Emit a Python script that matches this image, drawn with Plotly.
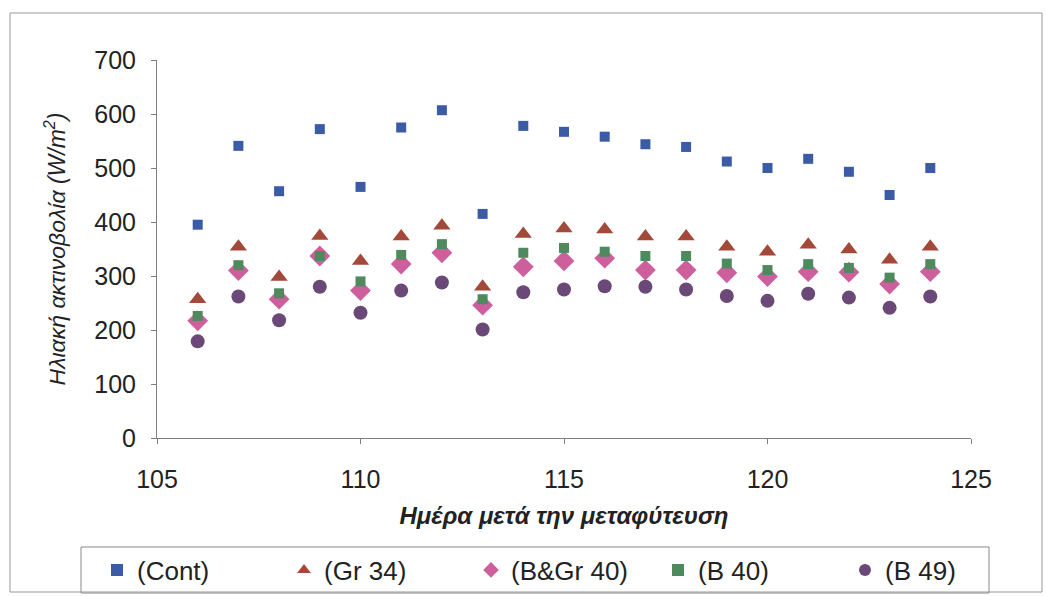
import plotly.graph_objects as go

days = list(range(106, 125))
cont = [395, 541, 457, 572, 465, 575, 607, 415, 578, 567, 558, 544, 539, 512, 500, 517, 493, 450, 500]
gr34 = [257, 354, 298, 374, 328, 373, 393, 280, 378, 388, 386, 373, 373, 354, 345, 358, 349, 330, 354]
bgr40 = [217, 310, 257, 337, 273, 322, 343, 246, 317, 328, 333, 311, 311, 306, 299, 308, 307, 285, 308]
b40 = [226, 320, 268, 337, 290, 339, 359, 257, 343, 352, 345, 337, 337, 323, 311, 322, 315, 297, 322]
b49 = [179, 262, 218, 280, 232, 273, 288, 201, 270, 275, 281, 280, 275, 263, 254, 267, 260, 241, 262]

series = [
    ("(Cont)", cont, "square", "#3B5BA5", 10),
    ("(Gr 34)", gr34, "triangle-up", "#A3493A", 15),
    ("(B&Gr 40)", bgr40, "diamond", "#CC5F9C", 16),
    ("(B 40)", b40, "square", "#4F8A5E", 10),
    ("(B 49)", b49, "circle", "#6A4877", 14),
]

fig = go.Figure()
for name, vals, sym, col, sz in series:
    fig.add_trace(go.Scatter(
        x=days, y=vals, mode="markers", name=name,
        marker=dict(symbol=sym, color=col, size=sz, line=dict(width=0)),
    ))

FONT = "Liberation Sans, Arial"
axis_font = dict(family=FONT, size=25, color="#222222")
PW, PH, PL, PB = 814, 378, 157, 438


def px_x(p):
    return (p - PL) / PW


def px_y(p):
    return (PB - p) / PH


fig.update_layout(
    width=1046, height=596,
    margin=dict(l=157, r=75, t=60, b=158, autoexpand=False),
    plot_bgcolor="white", paper_bgcolor="white",
    font=dict(family=FONT, size=20, color="#222222"),
    showlegend=True,
    legend=dict(
        orientation="h", x=px_x(97), xanchor="left", y=px_y(570), yanchor="middle",
        borderwidth=0, bgcolor="rgba(0,0,0,0)",
        font=dict(family=FONT, size=26, color="#222222"),
        entrywidth=142, itemsizing="constant", tracegroupgap=0,
    ),
    xaxis=dict(
        range=[105, 125], dtick=5, tick0=105, showgrid=False, zeroline=False,
        showline=True, linecolor="#808080", linewidth=1,
        ticks="outside", ticklen=5, tickcolor="#808080",
        tickfont=axis_font, ticklabelstandoff=14,
        title=dict(text="<b><i>Ημέρα μετά την μεταφύτευση</i></b>",
                   font=dict(family=FONT, size=24, color="#222222"),
                   standoff=15),
    ),
    yaxis=dict(
        range=[0, 700], dtick=100, showgrid=False, zeroline=False,
        showline=True, linecolor="#808080", linewidth=1,
        ticks="outside", ticklen=5, tickcolor="#808080",
        tickfont=axis_font, ticklabelstandoff=10,
        title=dict(text="<i>Ηλιακή ακτινοβολία (W/m<sup>2</sup>)</i>",
                   font=dict(family=FONT, size=23, color="#222222"),
                   standoff=22),
    ),
)

# outer chart border
fig.add_shape(type="rect", xref="paper", yref="paper",
              x0=px_x(10), x1=px_x(1042), y0=px_y(592), y1=px_y(13),
              line=dict(color="#999999", width=1))
# legend box
fig.add_shape(type="rect", xref="paper", yref="paper",
              x0=px_x(81), x1=px_x(989), y0=px_y(593), y1=px_y(547),
              line=dict(color="#888888", width=1), layer="below")

fig.write_html("out.html")
